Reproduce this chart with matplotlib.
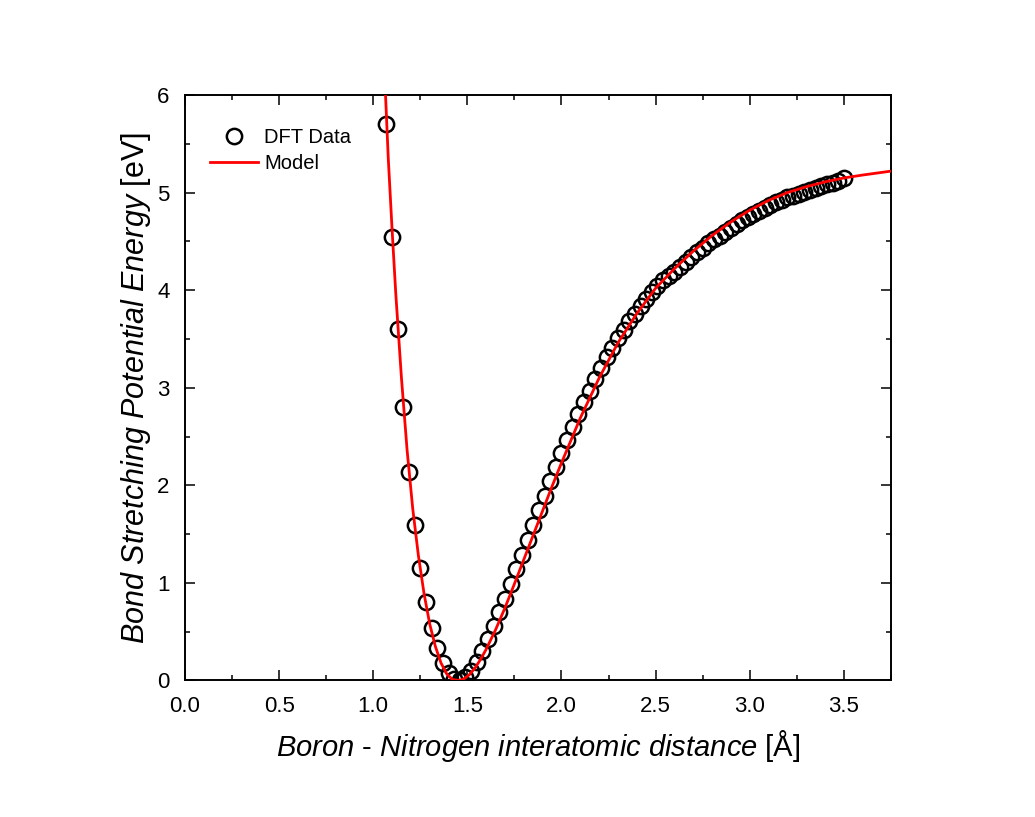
import matplotlib
matplotlib.use('Agg')
import matplotlib.pyplot as plt
from matplotlib.ticker import MultipleLocator, FormatStrFormatter

plt.rcParams['font.family'] = ['Liberation Sans', 'DejaVu Sans']
plt.rcParams['mathtext.fontset'] = 'custom'
plt.rcParams['mathtext.rm'] = 'Liberation Sans'
plt.rcParams['mathtext.it'] = 'Liberation Sans:italic'

# DFT data (Angstrom, eV)
dft_r = [1.07, 1.10, 1.13, 1.16, 1.19, 1.22, 1.25, 1.28, 1.31, 1.34,
         1.37, 1.40, 1.43, 1.46, 1.49, 1.52, 1.55, 1.58, 1.61, 1.64,
         1.67, 1.70, 1.73, 1.76, 1.79, 1.82, 1.85, 1.88, 1.91, 1.94,
         1.97, 2.00, 2.03, 2.06, 2.09, 2.12, 2.15, 2.18, 2.21, 2.24,
         2.27, 2.30, 2.33, 2.36, 2.39, 2.42, 2.45, 2.48, 2.51, 2.54,
         2.57, 2.60, 2.63, 2.66, 2.69, 2.72, 2.75, 2.78, 2.81, 2.84,
         2.87, 2.90, 2.93, 2.96, 2.99, 3.02, 3.05, 3.08, 3.11, 3.14,
         3.17, 3.20, 3.23, 3.26, 3.29, 3.32, 3.35, 3.38, 3.41, 3.44,
         3.47, 3.50]
dft_e = [5.70, 4.55, 3.60, 2.80, 2.135, 1.595, 1.15, 0.80, 0.535, 0.33,
         0.175, 0.08, 0.02, 0.01, 0.04, 0.10, 0.19, 0.30, 0.43, 0.56,
         0.70, 0.84, 0.99, 1.14, 1.29, 1.44, 1.595, 1.75, 1.895, 2.04,
         2.19, 2.33, 2.46, 2.60, 2.73, 2.85, 2.97, 3.09, 3.20, 3.31,
         3.41, 3.51, 3.59, 3.68, 3.76, 3.84, 3.91, 3.98, 4.04, 4.10,
         4.15, 4.19, 4.24, 4.29, 4.34, 4.39, 4.43, 4.48, 4.52, 4.56,
         4.60, 4.64, 4.68, 4.72, 4.75, 4.78, 4.81, 4.84, 4.87, 4.90,
         4.92, 4.95, 4.97, 4.99, 5.01, 5.03, 5.05, 5.07, 5.09, 5.10,
         5.12, 5.15]

# fitted model curve
model_r = [1.06, 1.08, 1.10, 1.12, 1.15, 1.18, 1.21, 1.24, 1.27, 1.30,
           1.33, 1.36, 1.39, 1.42, 1.45, 1.48, 1.51, 1.54, 1.57, 1.60,
           1.65, 1.70, 1.75, 1.80, 1.85, 1.90, 1.95, 2.00, 2.10, 2.20,
           2.30, 2.40, 2.50, 2.60, 2.70, 2.80, 2.90, 3.00, 3.10, 3.20,
           3.30, 3.40, 3.50, 3.60, 3.75]
model_e = [6.24, 5.35, 4.63, 3.96, 3.10, 2.36, 1.76, 1.28, 0.89, 0.58,
           0.35, 0.18, 0.068, 0.011, 0.0, 0.014, 0.058, 0.126, 0.215, 0.32,
           0.52, 0.745, 0.99, 1.24, 1.49, 1.74, 1.99, 2.23, 2.69, 3.10,
           3.46, 3.76, 4.02, 4.22, 4.40, 4.56, 4.70, 4.82, 4.92, 5.00,
           5.06, 5.11, 5.15, 5.18, 5.22]

fig = plt.figure(figsize=(10.35, 8.17), dpi=100)
ax = fig.add_axes([0.1787, 0.1671, 0.6821, 0.7166])

ax.plot(dft_r, dft_e, 'o', mfc='none', mec='black', ms=11, mew=1.8,
        label='DFT Data', zorder=2)
ax.plot(model_r, model_e, '-', color='#ff0000', lw=2, label='Model', zorder=3)

ax.set_xlim(0, 3.75)
ax.set_ylim(0, 6)
ax.xaxis.set_major_locator(MultipleLocator(0.5))
ax.xaxis.set_minor_locator(MultipleLocator(0.25))
ax.yaxis.set_major_locator(MultipleLocator(1))
ax.yaxis.set_minor_locator(MultipleLocator(0.5))
ax.xaxis.set_major_formatter(FormatStrFormatter('%.1f'))

ax.tick_params(which='both', direction='in', top=True, right=True,
               width=1.1, labelsize=16)
ax.tick_params(which='major', length=7.5, pad=11)
ax.tick_params(which='minor', length=3.8)
for s in ax.spines.values():
    s.set_linewidth(1.4)

ax.set_xlabel(r'$\mathit{Boron}$ - $\mathit{Nitrogen\ interatomic\ distance}$ [Å]',
              fontsize=21, labelpad=8)
ax.set_ylabel(r'$\mathit{Bond\ Stretching\ Potential\ Energy}$ [eV]',
              fontsize=22, labelpad=3)

ax.legend(loc='upper left', bbox_to_anchor=(0.035, 0.943), frameon=False,
          fontsize=14.5, borderaxespad=0, borderpad=0, handlelength=2.4,
          handletextpad=0.3, labelspacing=0.35)

fig.savefig('out.png', dpi=100)
